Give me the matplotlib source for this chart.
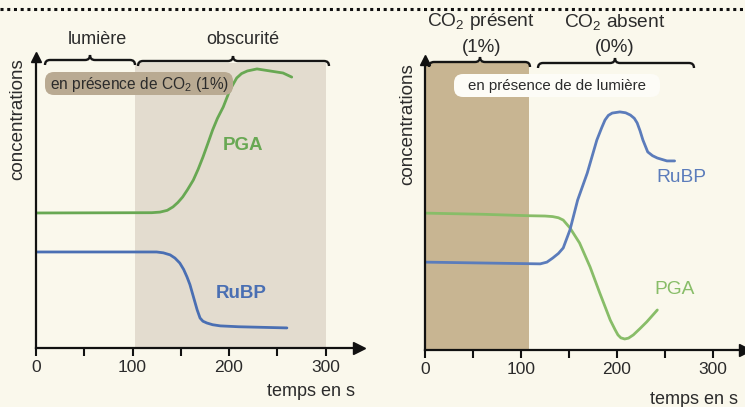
import matplotlib
matplotlib.use("Agg")
import matplotlib.pyplot as plt
from matplotlib.path import Path
from matplotlib.patches import PathPatch, FancyBboxPatch, Rectangle

plt.rcParams['font.family'] = ['Liberation Sans', 'DejaVu Sans']
plt.rcParams['mathtext.fontset'] = 'custom'
plt.rcParams['mathtext.rm'] = 'Liberation Sans'
plt.rcParams['mathtext.it'] = 'Liberation Sans:italic'
plt.rcParams['mathtext.bf'] = 'Liberation Sans:bold'

# ---------------- data ----------------
# left panel : light then darkness, CO2 1%
left_pga_t = [0, 120, 128.5, 136, 142, 147, 152, 157, 163, 168, 173, 178, 183, 188, 194, 201,
              208, 213, 219, 229, 242.5, 256, 265]
left_pga_v = [46.4, 46.5, 46.7, 47.3, 48.5, 50.0, 51.9, 54.4, 57.7, 61.4, 65.6, 70.2, 74.9,
              78.9, 82.8, 88.7, 92.8, 94.3, 95.2, 95.9, 95.2, 94.5, 93.1]
left_rubp_t = [0, 125, 132, 139, 144, 149, 153, 156.5, 159.5, 162, 164.5, 167, 170, 173, 177,
               183, 191, 210, 235, 260]
left_rubp_v = [33.0, 33.0, 32.7, 32.0, 30.9, 29.2, 27.0, 24.4, 21.8, 18.9, 16.0, 13.1, 10.3,
               9.2, 8.6, 8.0, 7.6, 7.3, 7.1, 6.9]
left_dark_span = [102.6, 300]

# right panel : light, CO2 present then absent
right_pga_t = [0, 60, 108, 125, 133, 139, 144, 151, 161, 172, 182, 193, 198, 201, 204, 208,
               212, 217, 224, 231, 242]
right_pga_v = [47.2, 46.8, 46.3, 46.2, 46.0, 45.6, 44.8, 42.1, 36.9, 28.6, 19.7, 10.3, 7.0,
               5.2, 4.2, 3.8, 4.1, 5.2, 7.4, 9.7, 13.8]
right_rubp_t = [0, 60, 120, 127, 133, 139, 144, 151, 159, 169, 179, 184, 187.5, 191, 195, 203,
                209, 214, 218, 221, 224, 227, 232, 237, 242, 252, 260]
right_rubp_v = [30.3, 30.0, 29.7, 30.3, 31.7, 33.3, 35.2, 41.4, 51.7, 61.0, 72.4, 76.6, 79.3,
                80.9, 81.7, 82.1, 81.8, 81.0, 79.9, 78.3, 75.6, 72.4, 68.3, 67.0, 66.2, 65.2,
                65.2]
right_co2_span = [0, 108]

major_ticks = [0, 100, 200, 300]
minor_ticks = [50, 150, 250]

# ---------------- style ----------------
BG = '#faf8ec'
TXT = '#2b2b2b'
GREEN_L, BLUE_L = '#68a853', '#4a6fb3'
GREEN_R, BLUE_R = '#88bd68', '#5b7cbb'

W, H = 745, 407
fig = plt.figure(figsize=(W / 100, H / 100), dpi=100, facecolor=BG)


def make_axes(x0, y0, xmax, pxs, pxv):
    ax = fig.add_axes([x0 / W, (H - y0) / H, xmax * pxs / W, 100 * pxv / H])
    ax.set_xlim(0, xmax)
    ax.set_ylim(0, 100)
    ax.patch.set_alpha(0)
    for s in ['top', 'right']:
        ax.spines[s].set_visible(False)
    for s in ['left', 'bottom']:
        ax.spines[s].set_linewidth(1.6)
        ax.spines[s].set_color('#111111')
    ax.set_yticks([])
    ax.set_xticks(major_ticks)
    ax.set_xticks(minor_ticks, minor=True)
    ax.tick_params(axis='x', which='both', direction='out', length=6, width=1.5,
                   labelsize=12.5, labelcolor=TXT, pad=3, color='#111111')
    ax.plot([1], [0], marker='>', ms=9, color='#111111', transform=ax.transAxes, clip_on=False)
    ax.plot([0], [1], marker='^', ms=7, color='#111111', transform=ax.transAxes, clip_on=False)
    return ax


axL = make_axes(36, 348, 335, 0.965, 2.91)
axL.add_patch(Rectangle((left_dark_span[0], 0), left_dark_span[1] - left_dark_span[0], 97.9,
                        facecolor='#e3dccf', edgecolor='none', zorder=0))
axL.plot(left_pga_t, left_pga_v, color=GREEN_L, lw=2.0, solid_capstyle='round',
         solid_joinstyle='round')
axL.plot(left_rubp_t, left_rubp_v, color=BLUE_L, lw=2.0, solid_capstyle='round',
         solid_joinstyle='round')

axR = make_axes(425, 350, 333, 0.96, 2.9)
axR.add_patch(Rectangle((right_co2_span[0], 0), right_co2_span[1] - right_co2_span[0], 99.3,
                        facecolor='#c8b592', edgecolor='none', zorder=0))
axR.plot(right_pga_t, right_pga_v, color=GREEN_R, lw=2.0, solid_capstyle='round',
         solid_joinstyle='round')
axR.plot(right_rubp_t, right_rubp_v, color=BLUE_R, lw=2.0, solid_capstyle='round',
         solid_joinstyle='round')

# ---------------- overlay (pixel coords) ----------------
ov = fig.add_axes([0, 0, 1, 1], zorder=10)
ov.set_xlim(0, W)
ov.set_ylim(H, 0)
ov.axis('off')
ov.patch.set_alpha(0)


def brace(x0, x1, xt, y, h=5):
    verts = [(x0, y + h), (x0, y), (x0 + h, y),
             (xt - h, y), (xt, y), (xt, y - h),
             (xt, y), (xt + h, y),
             (x1 - h, y), (x1, y), (x1, y + h)]
    codes = [Path.MOVETO, Path.CURVE3, Path.CURVE3,
             Path.LINETO, Path.CURVE3, Path.CURVE3,
             Path.CURVE3, Path.CURVE3,
             Path.LINETO, Path.CURVE3, Path.CURVE3]
    ov.add_patch(PathPatch(Path(verts, codes), fill=False, lw=1.7, edgecolor='#151515'))


# dotted top line
ov.plot([0, W], [9, 9], color='#111111', lw=2.2, ls=(0, (1, 1.2)))

# left panel labels
brace(45, 135, 90, 60)
brace(138, 329, 233, 61)
ov.text(97, 40, 'lumière', ha='center', va='center', fontsize=13, color=TXT)
ov.text(243, 40, 'obscurité', ha='center', va='center', fontsize=13, color=TXT)
ov.add_patch(FancyBboxPatch((45, 72), 188, 23, boxstyle='round,pad=0,rounding_size=9',
                            facecolor='#b9aa92', edgecolor='none'))
ov.text(140, 84, 'en présence de CO$_2$ (1%)', ha='center', va='center', fontsize=11.2,
        color=TXT)
ov.text(18, 119, 'concentrations', rotation=90, ha='center', va='center', fontsize=13.5,
        color=TXT)
ov.text(243, 145, 'PGA', ha='center', va='center', fontsize=13.5, fontweight='bold',
        color=GREEN_L)
ov.text(241, 294, 'RuBP', ha='center', va='center', fontsize=13.5, fontweight='bold',
        color=BLUE_L)
ov.text(311, 392, 'temps en s', ha='center', va='center', fontsize=13, color=TXT)

# right panel labels
brace(429, 530, 480, 62)
brace(538, 694, 615, 63)
ov.text(481, 22, 'CO$_2$ présent', ha='center', va='center', fontsize=13.8, color=TXT)
ov.text(482, 47, '(1%)', ha='center', va='center', fontsize=13.5, color=TXT)
ov.text(615, 22, 'CO$_2$ absent', ha='center', va='center', fontsize=13.8, color=TXT)
ov.text(615, 47, '(0%)', ha='center', va='center', fontsize=13.5, color=TXT)
ov.add_patch(FancyBboxPatch((454, 74), 206, 23, boxstyle='round,pad=0,rounding_size=9',
                            facecolor='#fdfcf7', edgecolor='none'))
ov.text(557, 86, 'en présence de de lumière', ha='center', va='center', fontsize=10.8,
        color=TXT)
ov.text(408, 124, 'concentrations', rotation=90, ha='center', va='center', fontsize=13.5,
        color=TXT)
ov.text(681, 178, 'RuBP', ha='center', va='center', fontsize=13.8, color=BLUE_R)
ov.text(675, 290, 'PGA', ha='center', va='center', fontsize=13.8, color=GREEN_R)
ov.text(650, 400, 'temps en s', ha='left', va='center', fontsize=13, color=TXT)

fig.savefig('out.png', dpi=100, facecolor=BG)
